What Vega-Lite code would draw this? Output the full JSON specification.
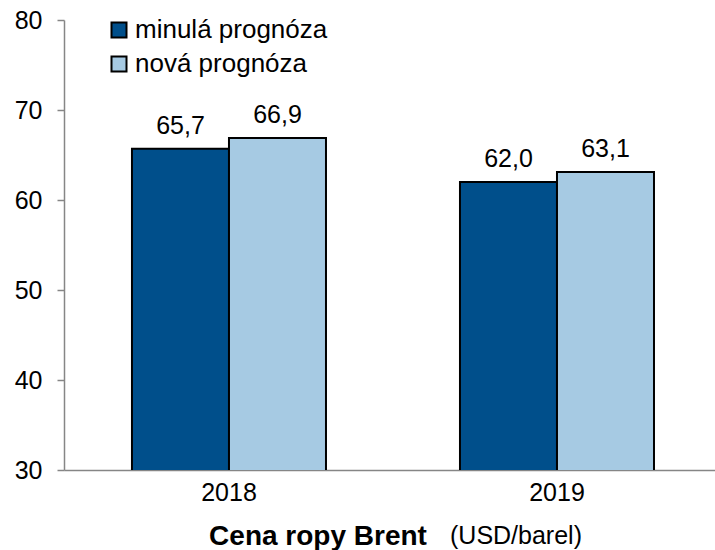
{
  "$schema": "https://vega.github.io/schema/vega-lite/v6.json",
  "width": 651,
  "height": 450,
  "autosize": {"type": "none"},
  "padding": {"left": 64, "top": 20, "right": 0, "bottom": 80},
  "background": "white",
  "config": {
    "font": "Liberation Sans",
    "view": {"stroke": null},
    "locale": {"number": {"decimal": ",", "thousands": " ", "grouping": [3], "currency": ["", ""]}}
  },
  "title": {
    "text": "(USD/barel)",
    "orient": "bottom",
    "anchor": "start",
    "frame": "group",
    "dx": 386,
    "offset": -26,
    "fontSize": 25,
    "fontWeight": "normal",
    "color": "black",
    "font": "Liberation Sans"
  },
  "data": {
    "values": [
      {"rok": "2018", "serie": "minulá prognóza", "hodnota": 65.7},
      {"rok": "2018", "serie": "nová prognóza", "hodnota": 66.9},
      {"rok": "2019", "serie": "minulá prognóza", "hodnota": 62.0},
      {"rok": "2019", "serie": "nová prognóza", "hodnota": 63.1}
    ]
  },
  "encoding": {
    "x": {
      "field": "rok",
      "type": "nominal",
      "scale": {"paddingInner": 0.4085, "paddingOuter": 0.1966, "align": 0.527},
      "axis": {
        "title": "Cena ropy Brent",
        "titleFontSize": 28,
        "titleFontWeight": "bold",
        "titleColor": "black",
        "titleX": 253.5,
        "titleY": 74,
        "titleAlign": "center",
        "titleBaseline": "alphabetic",
        "labelAngle": 0,
        "labelFontSize": 25,
        "labelColor": "black",
        "labelPadding": 10,
        "ticks": false,
        "tickSize": 0,
        "domainColor": "#868686",
        "domainWidth": 1.5
      }
    },
    "xOffset": {"field": "serie", "type": "nominal"},
    "y": {
      "field": "hodnota",
      "type": "quantitative",
      "scale": {"domain": [30, 80], "zero": false, "nice": false},
      "axis": {
        "title": null,
        "values": [30, 40, 50, 60, 70, 80],
        "grid": false,
        "labelFontSize": 25,
        "labelColor": "black",
        "labelPadding": 15,
        "tickSize": 7,
        "tickColor": "#868686",
        "tickWidth": 1.5,
        "domainColor": "#868686",
        "domainWidth": 1.5
      }
    }
  },
  "layer": [
    {
      "mark": {"type": "bar", "stroke": "black", "strokeWidth": 2, "clip": true},
      "encoding": {
        "color": {
          "field": "serie",
          "type": "nominal",
          "scale": {"domain": ["minulá prognóza", "nová prognóza"], "range": ["#004F8B", "#A6CAE3"]},
          "legend": {
            "title": null,
            "orient": "none",
            "legendX": 42,
            "legendY": -3,
            "labelFontSize": 26,
            "labelColor": "black",
            "labelFont": "Liberation Sans",
            "labelLimit": 400,
            "symbolType": "square",
            "symbolSize": 225,
            "symbolStrokeColor": "black",
            "symbolStrokeWidth": 2,
            "symbolOpacity": 1,
            "labelOffset": 3,
            "rowPadding": 8
          }
        }
      }
    },
    {
      "mark": {"type": "text", "dy": -15, "baseline": "alphabetic", "fontSize": 25, "color": "black"},
      "encoding": {
        "text": {"field": "hodnota", "type": "quantitative", "format": ".1f"}
      }
    }
  ]
}
